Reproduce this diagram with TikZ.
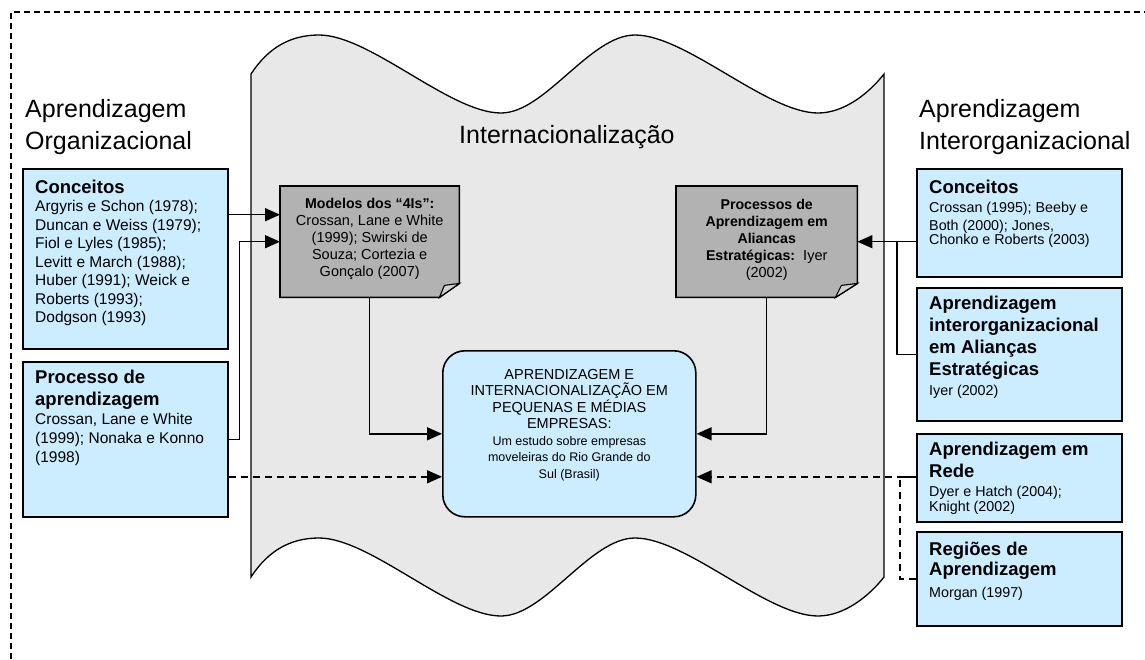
\documentclass[tikz,border=0pt]{standalone}
\usepackage{fontspec}
\setmainfont{Liberation Sans}
\usetikzlibrary{arrows.meta,calc}
\definecolor{boxblue}{HTML}{CCECFF}
\definecolor{notegray}{HTML}{B2B2B2}
\definecolor{wavegray}{HTML}{E8E8E8}
\definecolor{foldgray}{HTML}{D2D2D2}
\newcommand{\fTitle}{\fontsize{25}{30}\selectfont}
\newcommand{\fHead}{\bfseries\fontsize{18.5}{22}\selectfont}
\newcommand{\fNoteB}{\bfseries\fontsize{14.2}{17}\selectfont}
\begin{document}
\begin{tikzpicture}[x=1pt,y=-1pt,
  bluebox/.style={draw=black, line width=1.6pt, fill=boxblue, rectangle, anchor=north west, inner sep=0pt},
  notebox/.style={rectangle, anchor=north west, inner sep=0pt},
  notefill/.style={draw=black, line width=1.6pt, fill=notegray, line join=miter},
  foldfill/.style={draw=black, line width=1.1pt, fill=foldgray},
  centerbox/.style={draw=black, line width=1.6pt, fill=boxblue, rectangle, rounded corners=22pt, anchor=north west, inner sep=0pt},
  boxtext/.style={anchor=base west, align=left, inner sep=0pt},
  notetext/.style={anchor=base, align=center, inner sep=0pt, font=\fontsize{14.5}{17}\selectfont},
  arr/.style={line width=1.5pt, -{Triangle[length=15pt,width=13pt]}},
  darr/.style={line width=1.5pt, dash pattern=on 7pt off 5pt, -{Triangle[length=15pt,width=13pt]}},
  conn/.style={line width=1.5pt},
  dconn/.style={line width=1.5pt, dash pattern=on 7pt off 5pt},
  frame/.style={line width=1.2pt, dash pattern=on 6pt off 4pt}
]
\useasboundingbox (0,0) rectangle (1145,659);
\fill[white] (0,0) rectangle (1145,659);

% outer dashed frame
\coordinate (fbl) at (11,659);
\coordinate (ftl) at (11,12);
\coordinate (ftr) at (1145,12);
\draw[frame] (fbl) -- (ftl) -- (ftr);

% wave background
\path[draw=black, line width=1.3pt, fill=wavegray]
  (251,74) .. controls (268,48) and (290,35) .. (319,35)
  .. controls (370,35) and (450,113) .. (501,113)
  .. controls (545,113) and (590,35) .. (635,35)
  .. controls (686,35) and (767,113) .. (818,113)
  .. controls (845,113) and (870,92) .. (884,74)
  -- (884,577)
  .. controls (870,595) and (845,616) .. (818,616)
  .. controls (767,616) and (686,538) .. (635,538)
  .. controls (590,538) and (545,616) .. (501,616)
  .. controls (450,616) and (370,538) .. (319,538)
  .. controls (290,538) and (268,551) .. (251,577)
  -- cycle;

% titles (anchor = baseline of last line)
\node[boxtext, font=\fTitle] (tl) at (25,149) {Aprendizagem\\[2pt]Organizacional};
\node[boxtext, font=\fTitle] (tr) at (919,149) {Aprendizagem\\[2pt]Interorganizacional};
\node[boxtext, font=\fTitle] (ti) at (459,143) {Internacionaliza\c{c}\~ao};

% left boxes
\node[bluebox, minimum width=205pt, minimum height=180pt] (lc) at (22,168) {};
\node[bluebox, minimum width=205pt, minimum height=155pt] (lp) at (22,361) {};
% right boxes
\node[bluebox, minimum width=205pt, minimum height=108pt] (rc) at (916,168) {};
\node[bluebox, minimum width=205pt, minimum height=133pt] (ra) at (916,287) {};
\node[bluebox, minimum width=205pt, minimum height=88pt] (rr) at (916,433) {};
\node[bluebox, minimum width=205pt, minimum height=94pt] (rg) at (916,531) {};
% center box
\node[centerbox, minimum width=253pt, minimum height=166pt] (cb) at (442,350) {};

% gray note boxes with folded corner
\node[notebox, minimum width=179pt, minimum height=111pt] (g1) at (280,186) {};
\node[notebox, minimum width=181pt, minimum height=111pt] (g2) at (676,186) {};
\path[notefill] (g1.north west) -- (g1.north east) -- ([yshift=14pt]g1.south east)
  -- ([xshift=-20pt]g1.south east) -- (g1.south west) -- cycle;
\path[foldfill] ([xshift=-20pt]g1.south east) -- ([xshift=-15pt,yshift=12pt]g1.south east)
  -- ([yshift=14pt]g1.south east) -- cycle;
\path[notefill] (g2.north west) -- (g2.north east) -- ([yshift=14pt]g2.south east)
  -- ([xshift=-22pt]g2.south east) -- (g2.south west) -- cycle;
\path[foldfill] ([xshift=-22pt]g2.south east) -- ([xshift=-16pt,yshift=12pt]g2.south east)
  -- ([yshift=14pt]g2.south east) -- cycle;

% texts in boxes (anchor = baseline of last line)
\node[boxtext, font=\fontsize{15.5}{18.5}\selectfont] (lct) at (35,322.5)
  {{\fHead Conceitos}\\Argyris e Schon (1978);\\Duncan e Weiss (1979);\\Fiol e Lyles (1985);\\Levitt e March (1988);\\Huber (1991); Weick e\\Roberts (1993);\\Dodgson (1993)};
\node[boxtext, font=\fontsize{15.5}{19}\selectfont] (lpt) at (35,462)
  {{\fHead Processo de}\\[3pt]{\fHead aprendizagem}\\[-0.5pt]Crossan, Lane e White\\(1999); Nonaka e Konno\\(1998)};
\node[boxtext, font=\fontsize{14.3}{18}\selectfont] (rct) at (929,244)
  {{\fHead Conceitos}\\[1pt]Crossan (1995); Beeby e\\Both (2000); Jones,\\[-4pt]Chonko e Roberts (2003)};
\node[boxtext, font=\fontsize{14.3}{22}\selectfont] (rat) at (929,395)
  {{\fHead Aprendizagem}\\{\fHead interorganizacional}\\{\fHead em Alian\c{c}as}\\{\fHead Estrat\'egicas}\\[-2.5pt]Iyer (2002)};
\node[boxtext, font=\fontsize{14.3}{22}\selectfont] (rrt) at (929,511)
  {{\fHead Aprendizagem em}\\{\fHead Rede}\\[-3.5pt]Dyer e Hatch (2004);\\[-7pt]Knight (2002)};
\node[boxtext, font=\fontsize{14.3}{22}\selectfont] (rgt) at (929,597)
  {{\fHead Regi\~oes de}\\[-2pt]{\fHead Aprendizagem}\\[-0.5pt]Morgan (1997)};

\node[notetext] (g1t) at ([yshift=-90pt]g1.north)
  {{\fNoteB Modelos dos \char"201C 4Is\char"201D:}\\Crossan, Lane e White\\(1999); Swirski de\\Souza; Cortezia e\\Gon\c{c}alo (2007)};
\node[notetext] (g2t) at ([yshift=-91pt]g2.north)
  {{\fNoteB Processos de}\\{\fNoteB Aprendizagem em}\\{\fNoteB Aliancas}\\{\fNoteB Estrat\'egicas:}\ \ Iyer\\(2002)};

\node[anchor=base, align=center, inner sep=0pt, font=\fontsize{14.5}{16.5}\selectfont] (cbt) at ([yshift=-128pt]cb.north)
  {APRENDIZAGEM E\\INTERNACIONALIZA\c{C}\~AO EM\\PEQUENAS E M\'EDIAS\\EMPRESAS:\\{\fontsize{12.5}{15}\selectfont Um estudo sobre empresas}\\{\fontsize{12.5}{15}\selectfont moveleiras do Rio Grande do}\\{\fontsize{12.5}{15}\selectfont Sul (Brasil)}};

% connectors
\coordinate (g1a) at ([yshift=27pt]g1.west);
\coordinate (cbl) at ([yshift=-43pt]cb.west);
\coordinate (cbr) at ([yshift=-43pt]cb.east);
\draw[arr] (lc.east |- g1a) -- (g1a);
\draw[arr] (lp.east) -- ++(11,0) |- (g1.west);
\draw[arr] (g1.south) |- (cb.west);
\draw[arr] (g2.south) |- (cb.east);
\draw[arr] (rc.west |- g2.east) -- (g2.east);
\draw[conn] (ra.west) -- ++(-19,0) |- (rc.west |- g2.east);
\draw[darr] (lp.east |- cbl) -- (cbl);
\draw[darr] (rr.west |- cbr) -- (cbr);
\draw[dconn] (rg.west) -- ++(-16,0) |- (rr.west |- cbr);
\end{tikzpicture}
\end{document}
